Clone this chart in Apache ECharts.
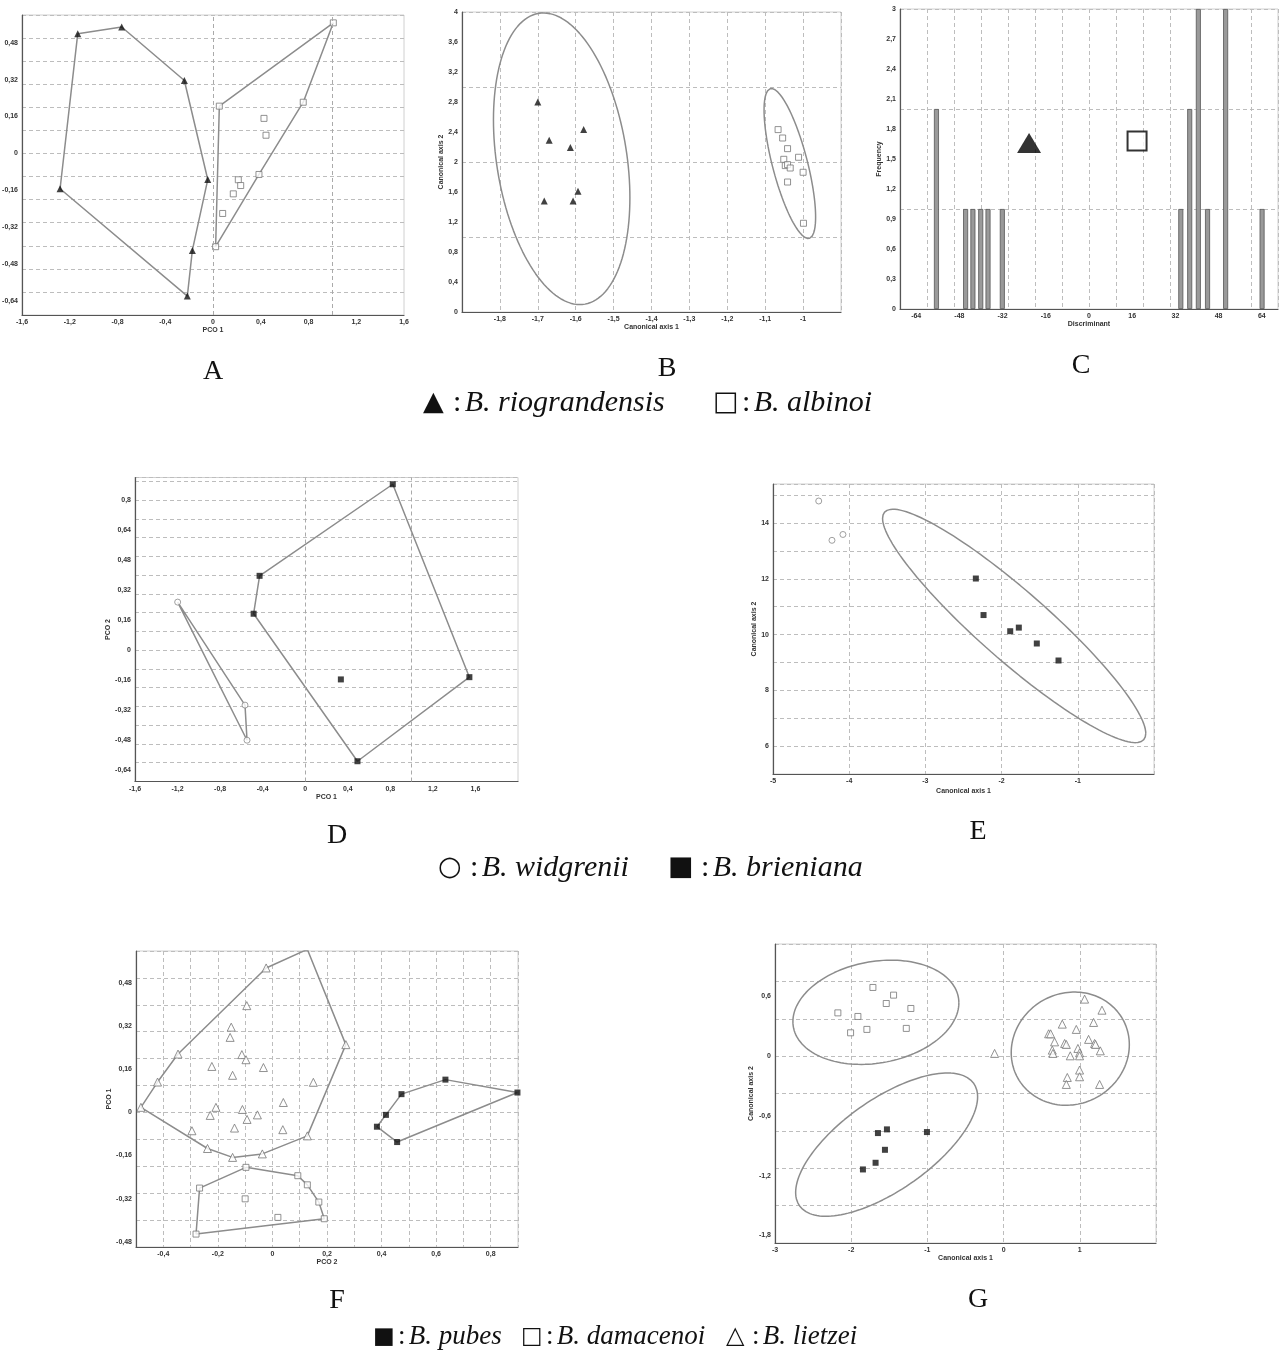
<!DOCTYPE html>
<html>
<head>
<meta charset="utf-8">
<script src="https://cdn.jsdelivr.net/npm/echarts@6/dist/echarts.min.js"></script>
<style>
  html, body { margin: 0; padding: 0; background: #fff; }
  #chart { width: 1281px; height: 1356px; }
</style>
</head>
<body>
<div id="chart"></div>
<script>
// ---- panel A : PCO, B. riograndensis / B. albinoi
var aRioHull = [[-1.133, 0.519], [-0.765, 0.548], [-0.240, 0.316], [-0.044, -0.113], [-0.173, -0.420], [-0.215, -0.618], [-1.281, -0.153]];
var aAlbHull = [[0.053, 0.205], [1.008, 0.566], [0.756, 0.222], [0.385, -0.091], [0.022, -0.404]];
var aAlbInner = [[0.427, 0.152], [0.444, 0.079], [0.212, -0.114], [0.232, -0.139], [0.170, -0.175], [0.081, -0.260]];
var aXTicks = [-1.6, -1.2, -0.8, -0.4, 0, 0.4, 0.8, 1.2, 1.6];
var aYTicks = [-0.64, -0.48, -0.32, -0.16, 0, 0.16, 0.32, 0.48];

// ---- panel B : canonical axes
var bRio = [[-1.700, 2.80], [-1.579, 2.432], [-1.670, 2.289], [-1.614, 2.192], [-1.594, 1.609], [-1.683, 1.480], [-1.607, 1.480]];
var bAlb = [[-1.066, 2.432], [-1.054, 2.32], [-1.041, 2.178], [-1.051, 2.036], [-1.012, 2.063], [-1.047, 1.952], [-1.041, 1.965], [-1.034, 1.920], [-1.000, 1.863], [-1.041, 1.733], [-0.999, 1.183]];
// ellipse: centre x, centre y, half width, half height, cos(phase)
var bEllipses = [[-1.637, 2.043, 0.18, 1.944, -0.267], [-1.035, 1.98, 0.068, 1.0, -0.713]];
var bXTicks = [-1.8, -1.7, -1.6, -1.5, -1.4, -1.3, -1.2, -1.1, -1];
var bYTicks = [0, 0.4, 0.8, 1.2, 1.6, 2, 2.4, 2.8, 3.2, 3.6, 4];

// ---- panel C : discriminant histogram
var cBins = [-56.5, -45.7, -43.0, -40.1, -37.4, -32.1, 34.0, 37.3, 40.5, 43.9, 50.6, 64.1];
var cFreq = [2, 1, 1, 1, 1, 1, 1, 2, 3, 1, 3, 1];
var cRioMark = [-22.2, 1.66];
var cAlbMark = [17.8, 1.68];
var cXTicks = [-64, -48, -32, -16, 0, 16, 32, 48, 64];
var cYTicks = [0, 0.3, 0.6, 0.9, 1.2, 1.5, 1.8, 2.1, 2.4, 2.7, 3];

// ---- panel D : PCO, B. widgrenii / B. brieniana
var dBriHull = [[0.823, 0.884], [1.543, -0.144], [0.491, -0.592], [-0.485, 0.194], [-0.429, 0.396]];
var dBriInner = [[0.335, -0.156]];
var dWidHull = [[-1.199, 0.256], [-0.566, -0.293], [-0.547, -0.48]];
var dXTicks = [-1.6, -1.2, -0.8, -0.4, 0, 0.4, 0.8, 1.2, 1.6];
var dYTicks = [-0.64, -0.48, -0.32, -0.16, 0, 0.16, 0.32, 0.48, 0.64, 0.8];

// ---- panel E : canonical axes
var eWid = [[-4.40, 14.79], [-4.226, 13.38], [-4.082, 13.59]];
var eBri = [[-2.338, 12.01], [-2.237, 10.70], [-1.887, 10.12], [-1.774, 10.25], [-1.538, 9.68], [-1.253, 9.07]];
var eEllipse = [-1.835, 10.31, 1.727, 4.185, -0.921];
var eXTicks = [-5, -4, -3, -2, -1];
var eYTicks = [6, 8, 10, 12, 14];

// ---- panel F : PCO, B. pubes / B. damacenoi / B. lietzei
var fLieHull = [[-0.482, 0.019], [-0.421, 0.113], [-0.346, 0.217], [-0.023, 0.537], [0.128, 0.606], [0.269, 0.252], [0.128, -0.087], [-0.037, -0.154], [-0.146, -0.167], [-0.238, -0.134]];
var fLieInner = [[-0.094, 0.397], [-0.151, 0.317], [-0.155, 0.279], [-0.112, 0.215], [-0.097, 0.196], [-0.222, 0.171], [-0.146, 0.138], [-0.033, 0.167], [0.150, 0.112], [0.040, 0.037], [-0.207, 0.019], [-0.110, 0.011], [-0.228, -0.011], [-0.055, -0.009], [-0.093, -0.026], [-0.295, -0.068], [-0.139, -0.058], [0.038, -0.064]];
var fDamHull = [[-0.267, -0.281], [-0.097, -0.204], [0.093, -0.235], [0.128, -0.269], [0.170, -0.333], [0.190, -0.395], [-0.280, -0.452]];
var fDamInner = [[-0.100, -0.321], [0.020, -0.390]];
var fPubHull = [[0.473, 0.068], [0.634, 0.122], [0.898, 0.074], [0.457, -0.110], [0.383, -0.053], [0.416, -0.009]];
var fXTicks = [-0.4, -0.2, 0, 0.2, 0.4, 0.6, 0.8];
var fYTicks = [-0.48, -0.32, -0.16, 0, 0.16, 0.32, 0.48];

// ---- panel G : canonical axes
var gDam = [[-1.715, 0.689], [-1.444, 0.612], [-1.54, 0.528], [-1.217, 0.478], [-2.175, 0.434], [-1.912, 0.398], [-1.794, 0.268], [-1.277, 0.278], [-2.008, 0.234]];
var gPub = [[-1.531, -0.735], [-1.649, -0.772], [-1.006, -0.762], [-1.557, -0.940], [-1.680, -1.070], [-1.846, -1.137]];
var gLie = [[-0.118, 0.027], [1.063, 0.572], [1.291, 0.461], [0.770, 0.321], [1.181, 0.338], [0.954, 0.268], [0.591, 0.224], [0.617, 0.224], [0.669, 0.143], [0.801, 0.127], [0.823, 0.117], [1.115, 0.168], [1.194, 0.127], [1.207, 0.117], [0.975, 0.077], [0.639, 0.060], [0.647, 0.027], [1.269, 0.053], [0.875, 0.003], [0.997, 0.033], [0.997, 0.003], [0.997, -0.140], [0.836, -0.214], [0.997, -0.207], [0.823, -0.284], [1.260, -0.284]];
var gEllipses = [[-1.676, 0.44, 1.089, 0.523, 0.18], [-1.535, -0.888, 1.194, 0.7185, 0.668], [0.875, 0.075, 0.775, 0.568, 0.07]];
var gXTicks = [-3, -2, -1, 0, 1];
var gYTicks = [-1.8, -1.2, -0.6, 0, 0.6];

// ---------------------------------------------------------------
function fmt(v) {
  return String(+(+v).toFixed(3)).replace('.', ',');
}

function ellipse(p) {
  var phi = Math.acos(p[4]);
  var pts = [];
  for (var i = 0; i <= 144; i++) {
    var t = 2 * Math.PI * i / 144;
    pts.push([p[0] + p[2] * Math.cos(t), p[1] + p[3] * Math.cos(t - phi)]);
  }
  return pts;
}

function closed(h) { return h.concat([h[0]]); }

var GRIDC = '#bdbdbd';
var labelStyle = { fontSize: 7, fontWeight: 'bold', color: '#333', fontFamily: 'Liberation Sans', margin: 4, formatter: fmt };

// labels sit on their own values, the dashed grid keeps the axis interval
function axis(dir, i, min, max, interval, ticks, split, name, gap) {
  return {
    type: 'value', gridIndex: i, min: min, max: max, interval: interval,
    name: name, nameLocation: 'middle', nameGap: gap,
    nameRotate: dir === 'y' ? 90 : 0,
    nameTextStyle: { fontSize: 7, fontWeight: 'bold', color: '#333', fontFamily: 'Liberation Sans' },
    axisLine: { show: true, onZero: false, lineStyle: { color: '#555', width: 1.2 } },
    axisTick: { show: false },
    axisLabel: Object.assign({ customValues: ticks }, labelStyle),
    splitLine: { show: split, lineStyle: { color: GRIDC, type: [4, 3], width: 1 } }
  };
}

var grids = [
  { left: 22, top: 15, width: 382, height: 300 },     // A
  { left: 462, top: 12, width: 379, height: 300 },    // B
  { left: 900, top: 9, width: 378, height: 300 },     // C
  { left: 135, top: 477.5, width: 383, height: 304 }, // D
  { left: 773, top: 484, width: 381, height: 290 },   // E
  { left: 136, top: 951, width: 382, height: 296 },   // F
  { left: 775, top: 944, width: 381, height: 299 }    // G
].map(function (g) {
  return Object.assign({
    show: true, borderColor: '#d0d0d0', borderWidth: 1, backgroundColor: '#fff',
    containLabel: false, outerBoundsMode: 'none'
  }, g);
});

var xAxes = [
  axis('x', 0, -1.6, 1.6, 0.4, aXTicks, false, 'PCO 1', 12),
  axis('x', 1, -1.9, -0.9, 0.1, bXTicks, true, 'Canonical axis 1', 11),
  axis('x', 2, -70, 70, 10, cXTicks, true, 'Discriminant', 11),
  axis('x', 3, -1.6, 2.0, 0.4, dXTicks, false, 'PCO 1', 12),
  axis('x', 4, -5, 0, 1, eXTicks, true, 'Canonical axis 1', 14),
  axis('x', 5, -0.5, 0.9, 0.1, fXTicks, true, 'PCO 2', 11),
  axis('x', 6, -3, 2, 1, gXTicks, true, 'Canonical axis 1', 12)
];
var yAxes = [
  axis('y', 0, -0.7, 0.6, 0.1, aYTicks, true, 'PCO 2', 15),
  axis('y', 1, 0, 4, 1, bYTicks, true, 'Canonical axis 2', 12),
  axis('y', 2, 0, 3, 1, cYTicks, true, 'Frequency', 12),
  axis('y', 3, -0.7, 0.92, 0.1, dYTicks, true, 'PCO 2', 15),
  axis('y', 4, 5, 15.4, 1, eYTicks, true, 'Canonical axis 2', 12),
  axis('y', 5, -0.5, 0.6, 0.1, fYTicks, true, 'PCO 1', 14),
  axis('y', 6, -1.875, 1.125, 0.375, gYTicks, true, 'Canonical axis 2', 15)
];

var HULL = { color: '#8c8c8c', width: 1.5 };
var solidTri = { symbol: 'triangle', symbolSize: 7, itemStyle: { color: '#111' } };
var openTri = { symbol: 'triangle', symbolSize: 8, itemStyle: { color: '#fff', borderColor: '#777', borderWidth: 1 } };
var openSq = { symbol: 'rect', symbolSize: 6, itemStyle: { color: '#fff', borderColor: '#777', borderWidth: 1 } };
var solidSq = { symbol: 'rect', symbolSize: 6, itemStyle: { color: '#111' } };
var openCirc = { symbol: 'circle', symbolSize: 6, itemStyle: { color: '#fff', borderColor: '#888', borderWidth: 1 } };

function line(i, pts, extra) {
  return Object.assign({
    type: 'line', xAxisIndex: i, yAxisIndex: i, data: pts, showSymbol: false, symbol: 'none',
    lineStyle: HULL, silent: true, z: 2, animation: false
  }, extra || {});
}
function pts(i, data, sym) {
  return Object.assign({
    type: 'scatter', xAxisIndex: i, yAxisIndex: i, data: data, z: 3, animation: false
  }, JSON.parse(JSON.stringify(sym)));
}
var vLines = {
  markLine: {
    silent: true, symbol: 'none', label: { show: false },
    lineStyle: { color: '#aaa', type: [4, 3], width: 1 },
    data: [{ xAxis: 0 }, { xAxis: 1 }]
  }
};

var series = [
  // A
  line(0, closed(aRioHull), vLines),
  line(0, closed(aAlbHull)),
  pts(0, aRioHull, solidTri),
  pts(0, aAlbHull.concat(aAlbInner), openSq),
  // B
  line(1, ellipse(bEllipses[0])),
  line(1, ellipse(bEllipses[1])),
  pts(1, bRio, solidTri),
  pts(1, bAlb, openSq),
  // C
  {
    type: 'bar', xAxisIndex: 2, yAxisIndex: 2, barWidth: 5, animation: false,
    data: cBins.map(function (b, k) { return [b, cFreq[k]]; }),
    itemStyle: { color: '#9a9a9a', borderColor: '#555', borderWidth: 0.8 }
  },
  pts(2, [cRioMark], { symbol: 'triangle', symbolSize: [24, 20], itemStyle: { color: '#000' } }),
  pts(2, [cAlbMark], { symbol: 'rect', symbolSize: 19, itemStyle: { color: '#fff', borderColor: '#000', borderWidth: 2 } }),
  // D
  line(3, closed(dBriHull), vLines),
  line(3, closed(dWidHull)),
  pts(3, dBriHull.concat(dBriInner), solidSq),
  pts(3, dWidHull, openCirc),
  // E
  line(4, ellipse(eEllipse)),
  pts(4, eWid, openCirc),
  pts(4, eBri, solidSq),
  // F
  line(5, closed(fLieHull)),
  line(5, closed(fDamHull)),
  line(5, closed(fPubHull)),
  pts(5, fLieHull.concat(fLieInner), openTri),
  pts(5, fDamHull.concat(fDamInner), openSq),
  pts(5, fPubHull, solidSq),
  // G
  line(6, ellipse(gEllipses[0])),
  line(6, ellipse(gEllipses[1])),
  line(6, ellipse(gEllipses[2])),
  pts(6, gDam, openSq),
  pts(6, gPub, solidSq),
  pts(6, gLie, openTri)
];

// panel letters and legends
var SERIF = '"Liberation Serif", "Times New Roman", serif';
function letter(txt, x, y) {
  return { type: 'text', x: x, y: y, style: { text: txt, font: '28px ' + SERIF, fill: '#111', align: 'center', verticalAlign: 'middle' } };
}
function sym(txt, x, y, size) {
  return { type: 'text', x: x, y: y, style: { text: txt, font: (size || 27) + 'px "DejaVu Sans"', fill: '#111', align: 'left', verticalAlign: 'middle' } };
}
function lab(txt, x, y, size) {
  var s = (size || 30) + 'px ';
  return {
    type: 'text', x: x, y: y,
    style: {
      text: '{c|:} {i|' + txt + '}', align: 'left', verticalAlign: 'middle',
      rich: {
        c: { font: s + SERIF, fill: '#111' },
        i: { font: 'italic ' + s + SERIF, fill: '#111' }
      }
    }
  };
}

var graphics = [
  letter('A', 213, 372), letter('B', 667, 369), letter('C', 1081, 366),
  letter('D', 337, 836), letter('E', 978, 832),
  letter('F', 337, 1301), letter('G', 978, 1300),
  sym('\u25B2', 423, 403), lab('B. riograndensis', 453, 403),
  sym('\u25A1', 713, 403), lab('B. albinoi', 742, 403),
  sym('\u25CB', 438, 868), lab('B. widgrenii', 470, 868),
  sym('\u25A0', 668, 868), lab('B. brieniana', 701, 868),
  sym('\u25A0', 373, 1337, 23), lab('B. pubes', 398, 1337, 27),
  sym('\u25A1', 521, 1337, 23), lab('B. damacenoi', 546, 1337, 27),
  sym('\u25B3', 726, 1337, 24), lab('B. lietzei', 752, 1337, 27)
];

var chart = echarts.init(document.getElementById('chart'), null, { renderer: 'canvas' });
chart.setOption({
  backgroundColor: '#fff',
  animation: false,
  grid: grids,
  xAxis: xAxes,
  yAxis: yAxes,
  series: series,
  graphic: graphics
});
</script>
</body>
</html>
